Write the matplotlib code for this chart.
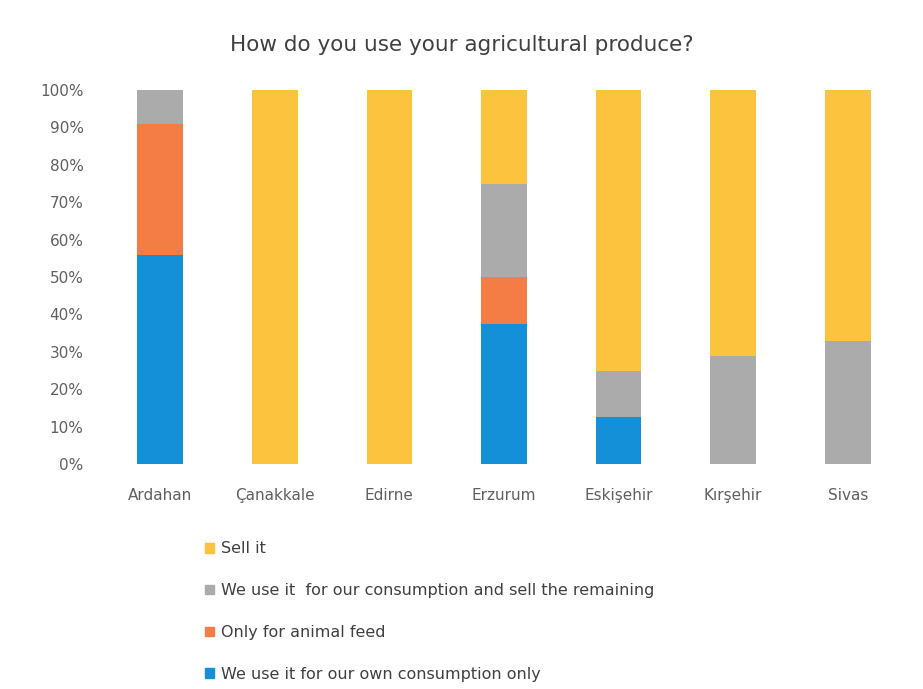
import matplotlib
matplotlib.use("Agg")
import matplotlib.pyplot as plt
import numpy as np
from matplotlib.patches import Patch

provinces = ["Ardahan", "Çanakkale", "Edirne", "Erzurum", "Eskişehir", "Kırşehir", "Sivas"]
own_only = [56, 0, 0, 37.5, 12.5, 0, 0]
animal_feed = [35, 0, 0, 12.5, 0, 0, 0]
use_and_sell = [9, 0, 0, 25, 12.5, 29, 33]
sell_it = [0, 100, 100, 25, 75, 71, 67]

series = [
    ("We use it for our own consumption only", own_only, "#1490D8"),
    ("Only for animal feed", animal_feed, "#F47C45"),
    ("We use it  for our consumption and sell the remaining", use_and_sell, "#ABABAB"),
    ("Sell it", sell_it, "#FBC33E"),
]

plt.rcParams["font.family"] = ["DejaVu Sans"]
fig = plt.figure(figsize=(9.23, 6.89), dpi=100)
ax = fig.add_axes([103 / 923, 1 - 464 / 689, (905 - 103) / 923, (464 - 90) / 689])

x = np.arange(len(provinces))
bottom = np.zeros(len(provinces))
for label, vals, color in series:
    vals = np.array(vals, float)
    ax.bar(x, vals, width=0.4, bottom=bottom, color=color, label=label)
    bottom += vals

ax.set_xlim(-0.5, len(provinces) - 0.5)
ax.set_ylim(0, 100)
ax.set_yticks(np.arange(0, 101, 10))
ax.set_yticklabels([f"{v}%" for v in range(0, 101, 10)])
ax.set_xticks(x)
ax.set_xticklabels(provinces)
for s in ax.spines.values():
    s.set_visible(False)
ax.tick_params(axis="both", length=0, colors="#606060", labelsize=11)
ax.tick_params(axis="x", pad=17)
ax.tick_params(axis="y", pad=14)

fig.text(0.5, 1 - 45 / 689, "How do you use your agricultural produce?",
         ha="center", va="center", fontsize=15.5, color="#404040")

handles = [Patch(color=c, label=l) for l, _, c in series[::-1]]
fig.legend(handles=handles, loc="upper left", bbox_to_anchor=(199 / 923, 1 - 535 / 689),
           frameon=False, fontsize=11.5, labelcolor="#404040",
           handlelength=0.55, handleheight=0.55, handletextpad=0.45,
           labelspacing=1.68, borderaxespad=0)

fig.savefig("out.png", dpi=100)
